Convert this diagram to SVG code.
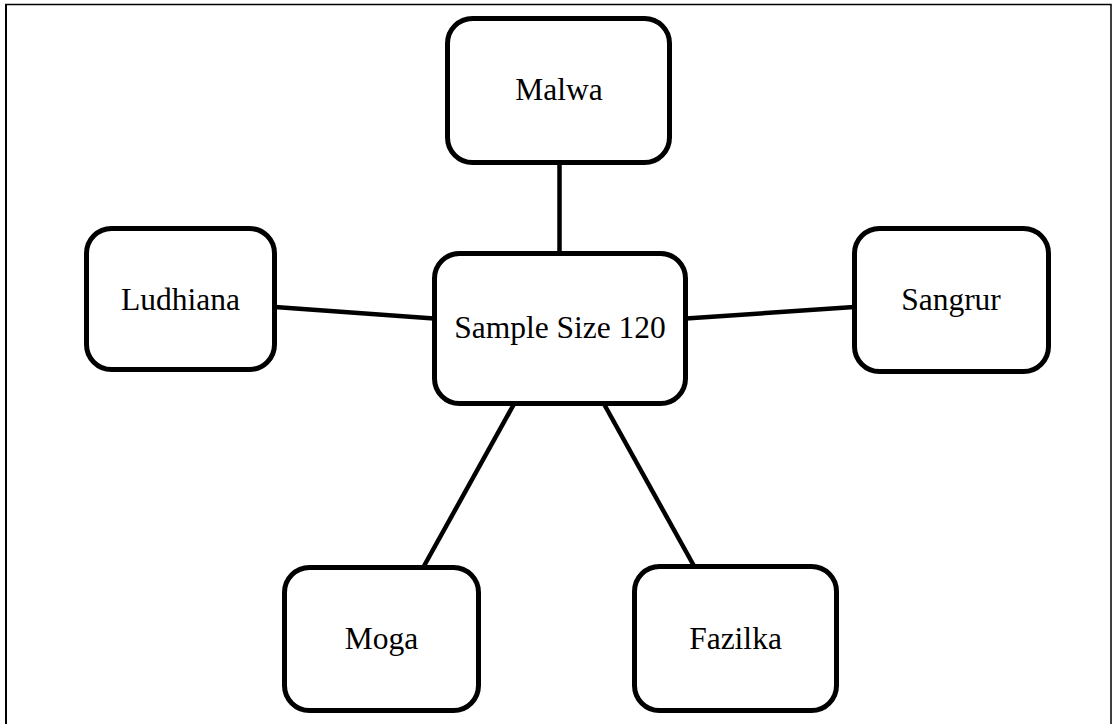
<svg xmlns="http://www.w3.org/2000/svg" width="1113" height="724" viewBox="0 0 1113 724">
  <style>
    .box { fill: #fff; stroke: #000; stroke-width: 5; }
    .lbl { font-family: "Liberation Serif", "Times New Roman", serif; font-size: 31.5px; fill: #000; text-anchor: middle; }
    .link { stroke: #000; stroke-width: 4.5; fill: none; }
  </style>
  <rect width="1113" height="724" fill="#fff"/>
  <!-- page frame -->
  <path d="M5 4.5 H1111 V724" fill="none" stroke="#000" stroke-width="1.5"/>
  <path d="M6 4 V724" fill="none" stroke="#000" stroke-width="2"/>

  <g id="connectors">
    <line class="link" x1="559.5" y1="163" x2="559.5" y2="253"/>
    <line class="link" x1="275" y1="307" x2="434" y2="318.5"/>
    <line class="link" x1="686" y1="318.5" x2="854" y2="307"/>
    <line class="link" x1="514" y1="404" x2="424" y2="566"/>
    <line class="link" x1="604" y1="404" x2="694" y2="566"/>
  </g>

  <g id="malwa">
    <rect class="box" x="447.5" y="18.5" width="222" height="144" rx="25"/>
    <text class="lbl" x="559" y="100">Malwa</text>
  </g>
  <g id="ludhiana">
    <rect class="box" x="86.5" y="228.5" width="188" height="141" rx="25"/>
    <text class="lbl" x="180.5" y="310">Ludhiana</text>
  </g>
  <g id="sample-size">
    <rect class="box" x="434.5" y="253.5" width="251" height="150" rx="25"/>
    <text class="lbl" x="560" y="338">Sample Size 120</text>
  </g>
  <g id="sangrur">
    <rect class="box" x="854.5" y="228.5" width="194" height="143" rx="25"/>
    <text class="lbl" x="951" y="310">Sangrur</text>
  </g>
  <g id="moga">
    <rect class="box" x="284.5" y="567.5" width="194" height="143" rx="25"/>
    <text class="lbl" x="381.5" y="649">Moga</text>
  </g>
  <g id="fazilka">
    <rect class="box" x="634.5" y="566.5" width="202" height="144" rx="25"/>
    <text class="lbl" x="735.5" y="649">Fazilka</text>
  </g>
</svg>
